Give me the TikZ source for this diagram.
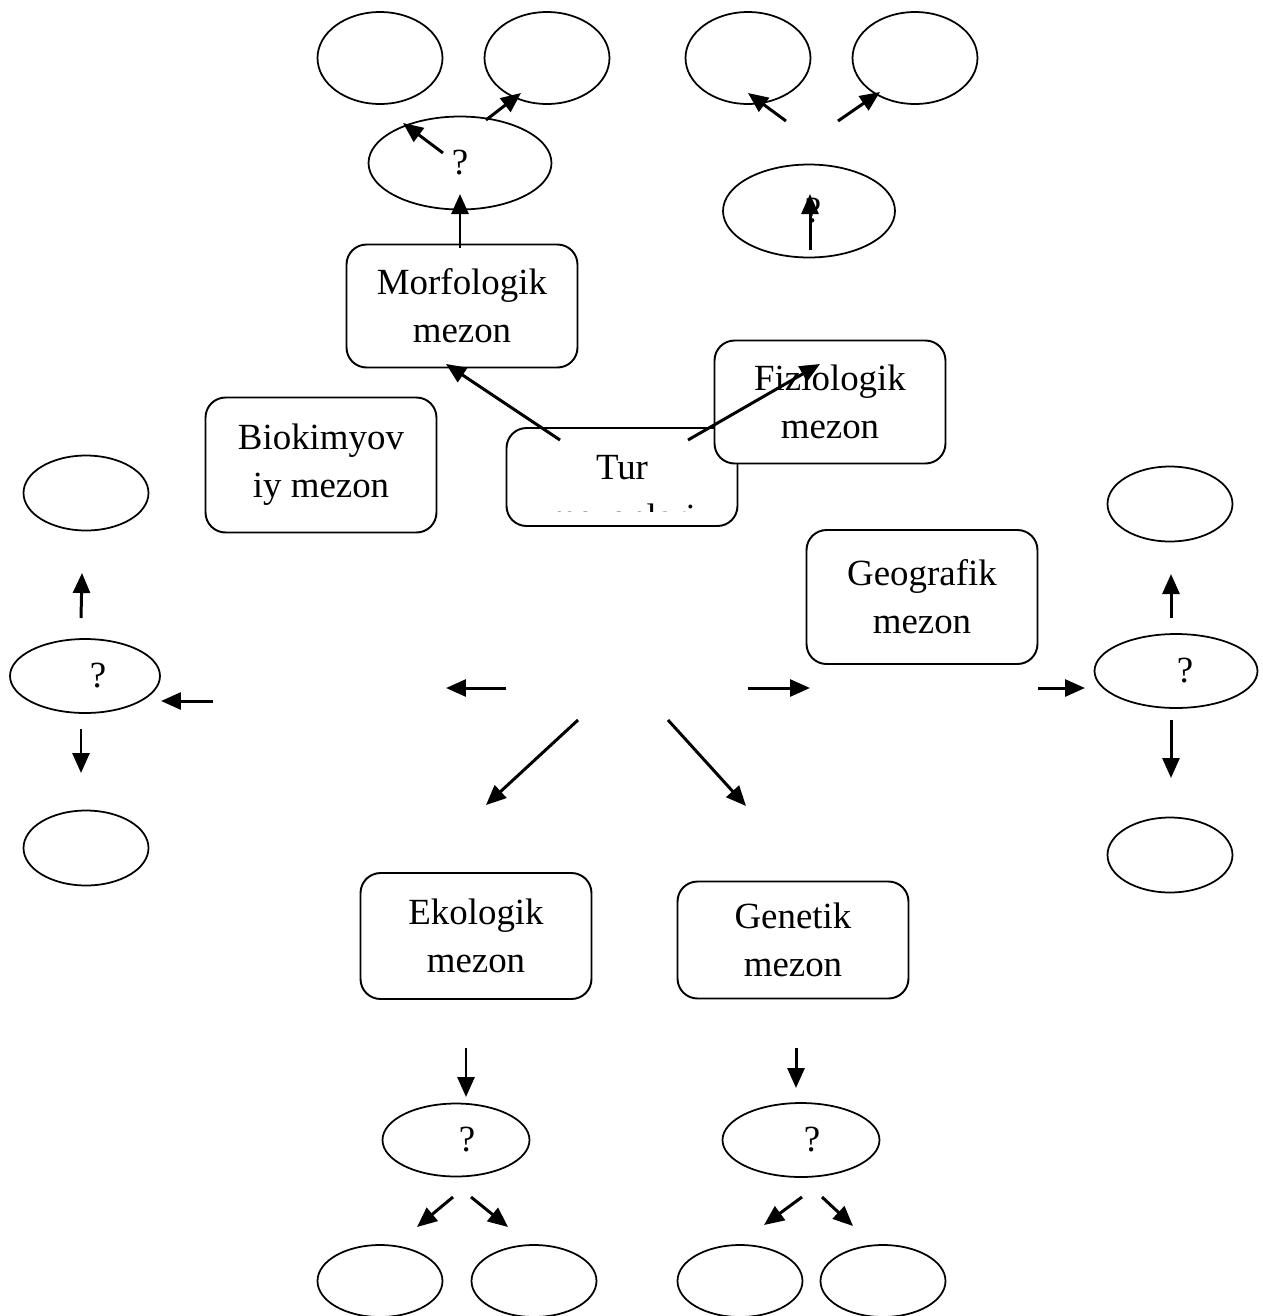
\documentclass[tikz,border=0pt]{standalone}
\usepackage{fontspec}
\setmainfont{Liberation Serif}
\usepackage{tikz}
\usetikzlibrary{arrows.meta,shapes.geometric}

\begin{document}
\begin{tikzpicture}[
  x=0.02cm, y=-0.02cm,
  font=\fontsize{21}{27.5}\selectfont,
  mezonbox/.style={draw, line width=1.1pt, rounded corners=0.4cm, fill=white,
                   minimum width=4.62cm, minimum height=2.46cm, align=center, inner sep=0pt},
  oval/.style={draw, ellipse, line width=1pt, inner sep=0pt,
               minimum width=2.5cm, minimum height=1.84cm},
  qoval/.style={oval, minimum height=1.48cm},
  arr/.style={-{Triangle[length=0.4cm,width=0.34cm]}, line width=1.7pt}
]
  \useasboundingbox (0,0) rectangle (1263,1316);

  \node[mezonbox] (morf) at (462,306) {Morfologik\\mezon};
  \node[mezonbox, minimum height=2.7cm] (bio) at (321,465) {Biokimyov\\iy mezon};
  \node[mezonbox, minimum height=1.96cm] (tur) at (622,477) {};
  \begin{scope}
    \clip (507,428) rectangle (738,511);
    \node[anchor=base] (turA) at (622,479) {Tur};
    \node[anchor=base] (turB) at (622,529) {mezonlari};
  \end{scope}
  \node[mezonbox] (fiz) at (830,402) {Fiziologik\\mezon};
  \node[mezonbox, minimum height=2.68cm] (geo) at (922,597) {Geografik\\mezon};
  \node[mezonbox, minimum height=2.52cm] (eko) at (476,936) {Ekologik\\mezon};
  \node[mezonbox, minimum height=2.34cm] (gen) at (793,940) {Genetik\\mezon};

  \node[oval] (tl1) at (380,58) {};
  \node[oval] (tl2) at (547,58) {};
  \node[oval] (tr1) at (748,58) {};
  \node[oval] (tr2) at (915,58) {};
  \node[oval, minimum width=3.66cm, minimum height=1.86cm] (morfq) at (460,163) {?};
  \node[oval, minimum width=3.44cm, minimum height=1.86cm] (fizq) at (809,211) {\hspace{0.16cm}?};

  \node[oval, minimum height=1.5cm] (l1) at (86,493) {};
  \node[qoval, minimum width=3.0cm] (bioq) at (85,676) {\hspace{0.52cm}?};
  \node[oval, minimum height=1.5cm] (l2) at (86,848) {};

  \node[oval, minimum height=1.5cm] (r1) at (1170,504) {};
  \node[qoval, minimum width=3.26cm] (geoq) at (1176,671) {\hspace{0.36cm}?};
  \node[oval, minimum height=1.5cm] (r2) at (1170,855) {};

  \node[qoval, minimum width=2.94cm, minimum height=1.46cm] (ekoq) at (456,1140) {\hspace{0.44cm}?};
  \node[qoval, minimum width=3.14cm] (genq) at (801,1140) {\hspace{0.44cm}?};
  \node[oval, minimum height=1.44cm] (b1) at (380,1281) {};
  \node[oval, minimum height=1.44cm] (b2) at (534,1281) {};
  \node[oval, minimum height=1.44cm] (b3) at (740,1281) {};
  \node[oval, minimum height=1.44cm] (b4) at (883,1281) {};

  \foreach \n/\sx/\sy/\ex/\ey in {
      1/460/248/460/194, 2/443/153/403/123, 3/486/120/521/93,
      4/786/121/748/93, 5/838/121/880/92, 6/810/250/810/194,
      7/560/440/446/364, 8/688/440/820/364,
      9/506/688/446/688, 10/748/688/810/688,
      11/578/720/486/805, 12/668/720/746/806,
      13/213/701/161/701, 14/81/618/82/573, 15/81/729/81/773,
      16/1038/688/1085/688, 17/1171/618/1171/574, 18/1171/720/1171/778,
      19/466/1048/466/1097, 20/453/1197/417/1227, 21/471/1197/508/1227,
      22/796/1048/796/1088, 23/802/1197/764/1225, 24/822/1197/853/1226}{
    \coordinate (s\n) at (\sx,\sy);
    \coordinate (e\n) at (\ex,\ey);
    \draw[arr] (s\n) -- (e\n);
  }
\end{tikzpicture}
\end{document}
